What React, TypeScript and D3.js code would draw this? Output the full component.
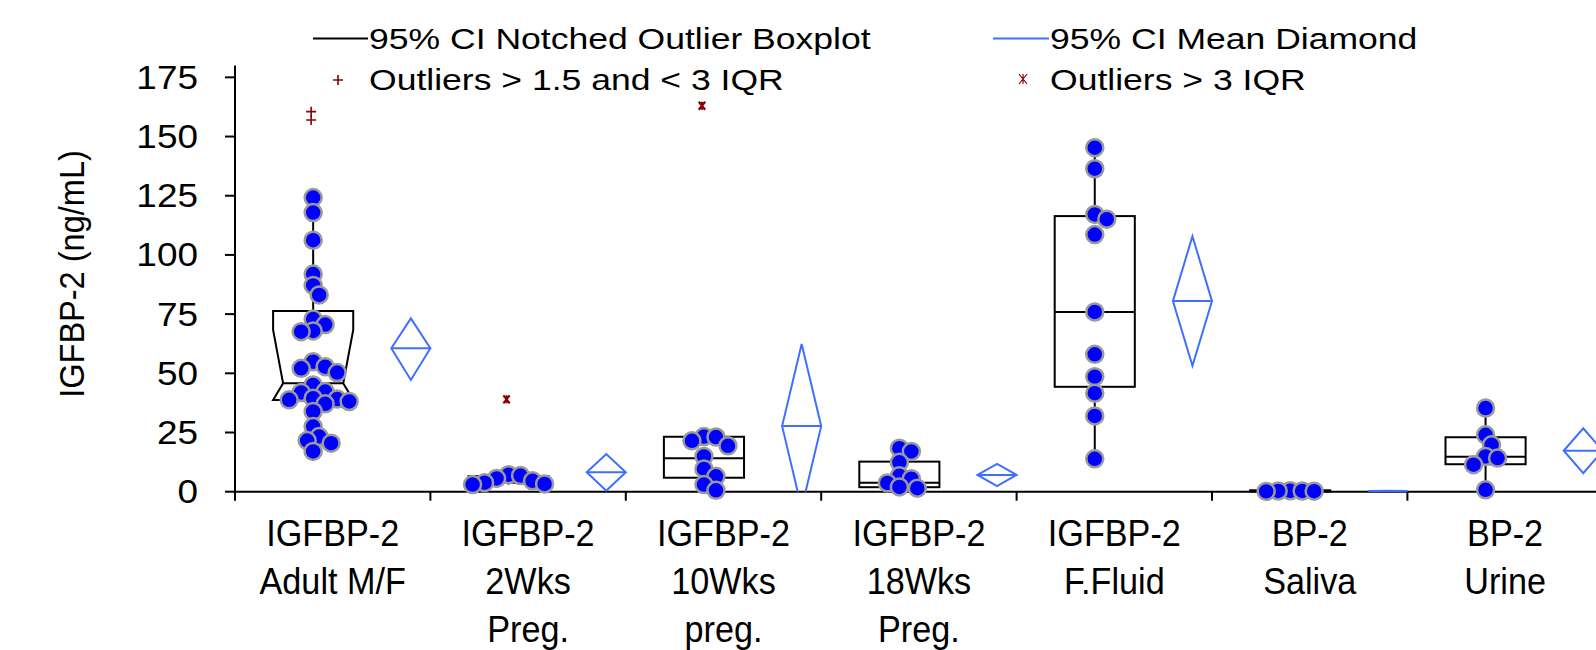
import React from 'react';
import * as d3 from 'd3';

// ---------- data ----------
const categoryLabels: string[][] = [
  ['IGFBP-2', 'Adult M/F'],
  ['IGFBP-2', '2Wks', 'Preg.'],
  ['IGFBP-2', '10Wks', 'preg.'],
  ['IGFBP-2', '18Wks', 'Preg.'],
  ['IGFBP-2', 'F.Fluid'],
  ['BP-2', 'Saliva'],
  ['BP-2', 'Urine'],
];

const pointsAdult = [124.2, 117.9, 106.2, 91.9, 87.1, 83.1, 72.9, 70.6, 67.9, 67.6, 54.9, 52.8, 52.1, 50.3, 45.1, 42.3, 41.9, 39.5, 39.1, 38.8, 38.1, 37.1, 33.9, 27.5, 23.3, 21.6, 20.5, 17.0];
const points2Wks = [7.2, 6.8, 5.6, 4.6, 3.8, 3.3, 3.0];
const points10Wks = [23.3, 23.1, 21.5, 19.4, 14.9, 9.6, 6.5, 3.0, 0.6];
const points18Wks = [18.4, 17.0, 12.4, 6.7, 5.5, 3.7, 2.0, 1.5];
const pointsFluid = [145.3, 136.4, 117.1, 115.1, 108.6, 75.9, 58.0, 48.6, 41.6, 32.0, 13.9];
const pointsSaliva = [0.4, 0.3, 0.3, 0.2, 0.1];
const pointsUrine = [35.3, 24.0, 19.8, 14.9, 14.2, 11.4, 0.8];
const groupPoints = [pointsAdult, points2Wks, points10Wks, points18Wks, pointsFluid, pointsSaliva, pointsUrine];

// box stats: [whiskerLo, q1, median, q3, whiskerHi]
const boxStats: number[][] = [
  [17.0, 38.7, 45.8, 76.3, 124.6],
  [3.0, 3.8, 5.0, 6.6, 7.2],
  [0.6, 5.9, 14.1, 23.2, 23.3],
  [1.8, 1.9, 3.8, 12.7, 18.4],
  [13.5, 44.3, 75.9, 116.4, 145.3],
  [0.1, 0.1, 0.3, 0.6, 0.6],
  [0.0, 11.6, 14.8, 23.0, 35.3],
];
// upper notch end (only first group notched)
const notchHigh: (number | null)[] = [68.3, null, null, null, null, null, null];

// mean diamond: [ciLo, mean, ciHi]
const meanDiamonds: number[][] = [
  [47.2, 60.6, 73.2],
  [0.4, 8.2, 15.9],
  [-7.0, 27.7, 62.4],
  [2.4, 7.1, 11.7],
  [53.2, 80.5, 107.9],
  [0.2, 0.3, 0.4],
  [7.8, 17.3, 26.8],
];

const mildOutliers: number[][] = [[157.0, 160.5], [], [], [], [], [], []];
const extremeOutliers: number[][] = [[], [39.0], [163.0], [], [], [], []];

const yTicks = [0, 25, 50, 75, 100, 125, 150, 175];
const yTitle = 'IGFBP-2 (ng/mL)';
const legendBox = '95% CI Notched Outlier Boxplot';
const legendDiamond = '95% CI Mean Diamond';
const legendMild = 'Outliers > 1.5 and < 3 IQR';
const legendExtreme = 'Outliers > 3 IQR';

// ---------- styles ----------
const FONT = '"Liberation Sans", Arial, Helvetica, sans-serif';
const BLUE_LINE = '#3f6fff';
const DOT_FILL = '#0000ff';
const DOT_STROKE = '#9a9a9a';
const OUT_RED = '#8b0000';

const W = 1596;
const H = 650;

function swarm(values: number[], cx: number, y: (v: number) => number) {
  const step = 6;
  const minD = 11;
  const placed: { x: number; y: number }[] = [];
  const sorted = [...values].sort((a, b) => b - a);
  for (const v of sorted) {
    const py = y(v);
    for (let k = 0; k < 60; k++) {
      const m = Math.ceil(k / 2);
      const off = k === 0 ? 0 : (k % 2 === 1 ? m : -m) * step;
      const px = cx + off;
      if (placed.every((p) => Math.hypot(p.x - px, p.y - py) >= minD)) {
        placed.push({ x: px, y: py });
        break;
      }
    }
  }
  return placed;
}

function PlusMark({ x, y, s }: { x: number; y: number; s: number }) {
  return (
    <path d={`M${x - s},${y}H${x + s}M${x},${y - s}V${y + s}`} stroke={OUT_RED} strokeWidth={1.6} fill="none" />
  );
}
function StarMark({ x, y, s, w }: { x: number; y: number; s: number; w: number }) {
  return (
    <path
      d={`M${x - s * 0.8},${y - s}L${x + s * 0.8},${y + s}M${x + s * 0.8},${y - s}L${x - s * 0.8},${y + s}M${x},${y - s}V${y + s}`}
      stroke={OUT_RED}
      strokeWidth={w}
      fill="none"
    />
  );
}

function SText({ x, y, sx, sy = 1, rot = 0, anchor = 'start', size, children }: any) {
  return (
    <text
      transform={`translate(${x},${y}) rotate(${rot}) scale(${sx},${sy})`}
      textAnchor={anchor}
      fontSize={size}
    >
      {children}
    </text>
  );
}

export default function App() {
  const ids = categoryLabels.map((_, i) => String(i));
  const bandW = 195.4;
  const x = d3.scaleBand<string>().domain(ids).range([235, 235 + 7 * bandW]).padding(0);
  const y = d3.scaleLinear().domain([0, 180]).range([491.7, 65.5]);
  const bw = x.bandwidth();
  const boxHalf = bw * 0.205;
  const diaHalf = bw * 0.1;

  return (
    <svg width={W} height={H} style={{ position: 'absolute', left: 0, top: 0, display: 'block', background: '#fff' }} fontFamily={FONT}>
      <defs>
        <clipPath id="plotClip">
          <rect x={235} y={0} width={W - 235} height={y(0)} />
        </clipPath>
      </defs>

      {/* legend */}
      <g fill="#000">
        <line x1={313} x2={368} y1={38.5} y2={38.5} stroke="#000" strokeWidth={2} />
        <SText x={369} y={49} sx={1.185} size={30}>{legendBox}</SText>
        <PlusMark x={338} y={80} s={5} />
        <SText x={369} y={90} sx={1.185} size={30}>{legendMild}</SText>
        <line x1={993} x2={1049} y1={38.5} y2={38.5} stroke={BLUE_LINE} strokeWidth={2} />
        <SText x={1050} y={49} sx={1.185} size={30}>{legendDiamond}</SText>
        <StarMark x={1023} y={79} s={5} w={1.2} />
        <SText x={1050} y={90} sx={1.185} size={30}>{legendExtreme}</SText>
      </g>

      {/* y axis */}
      <line x1={235} x2={235} y1={y(180)} y2={y(0)} stroke="#000" strokeWidth={2} />
      {yTicks.map((t) => (
        <g key={t}>
          <line x1={225} x2={235} y1={y(t)} y2={y(t)} stroke="#000" strokeWidth={2} />
          <SText x={198} y={y(t) + 11.5} sx={1.12} anchor="end" size={33}>{t}</SText>
        </g>
      ))}
      <SText x={84} y={274} rot={-90} sx={0.93} anchor="middle" size={35}>{yTitle}</SText>

      {/* x axis */}
      <line x1={235} x2={W} y1={y(0)} y2={y(0)} stroke="#000" strokeWidth={2} />
      {ids.map((id) => (
        <line key={id} x1={x(id)!} x2={x(id)!} y1={y(0)} y2={y(0) + 9} stroke="#000" strokeWidth={2} />
      ))}
      {categoryLabels.map((lines, i) =>
        lines.map((l, j) => (
          <SText key={`${i}-${j}`} x={x(String(i))! + bw / 2} y={546 + j * 48} sx={0.95} anchor="middle" size={36}>
            {l}
          </SText>
        ))
      )}

      {/* boxes */}
      {boxStats.map((s, i) => {
        const cx = x(String(i))! + bw * 0.4;
        const [wLo, q1, med, q3, wHi] = s;
        const L = cx - boxHalf;
        const R = cx + boxHalf;
        const nh = notchHigh[i];
        const inset = 10;
        return (
          <g key={i} stroke="#000" strokeWidth={2} fill="none">
            <line x1={cx} x2={cx} y1={y(q3)} y2={y(wHi)} />
            <line x1={cx} x2={cx} y1={y(q1)} y2={y(wLo)} />
            {nh != null ? (
              <>
                <path
                  d={`M${L},${y(q3)}H${R}V${y(nh)}L${R - inset},${y(med)}L${R},${y(q1)}H${L}L${L + inset},${y(med)}L${L},${y(nh)}Z`}
                />
                <line x1={L + inset} x2={R - inset} y1={y(med)} y2={y(med)} />
              </>
            ) : (
              <>
                <rect x={L} y={y(q3)} width={R - L} height={Math.max(0.5, y(q1) - y(q3))} />
                <line x1={L} x2={R} y1={y(med)} y2={y(med)} />
              </>
            )}
          </g>
        );
      })}

      {/* points */}
      {groupPoints.map((vals, i) => {
        const cx = x(String(i))! + bw * 0.4;
        return (
          <g key={i}>
            {swarm(vals, cx, y).map((p, j) => (
              <circle key={j} cx={p.x} cy={p.y} r={8.5} fill={DOT_FILL} stroke={DOT_STROKE} strokeWidth={2.5} />
            ))}
          </g>
        );
      })}

      {/* diamonds */}
      <g clipPath="url(#plotClip)">
        {meanDiamonds.map((d, i) => {
          const cx = x(String(i))! + bw * 0.9;
          const [lo, m, hi] = d;
          return (
            <g key={i} stroke={BLUE_LINE} strokeWidth={2} fill="none">
              <path d={`M${cx - diaHalf},${y(m)}L${cx},${y(hi)}L${cx + diaHalf},${y(m)}L${cx},${y(lo)}Z`} />
              <line x1={cx - diaHalf} x2={cx + diaHalf} y1={y(m)} y2={y(m)} />
            </g>
          );
        })}
      </g>

      {/* outliers */}
      {mildOutliers.map((vals, i) =>
        vals.map((v, j) => <PlusMark key={`m${i}-${j}`} x={x(String(i))! + bw * 0.4 - 2} y={y(v)} s={5} />)
      )}
      {extremeOutliers.map((vals, i) =>
        vals.map((v, j) => <StarMark key={`e${i}-${j}`} x={x(String(i))! + bw * 0.4 - 2} y={y(v)} s={4} w={2.2} />)
      )}
    </svg>
  );
}
